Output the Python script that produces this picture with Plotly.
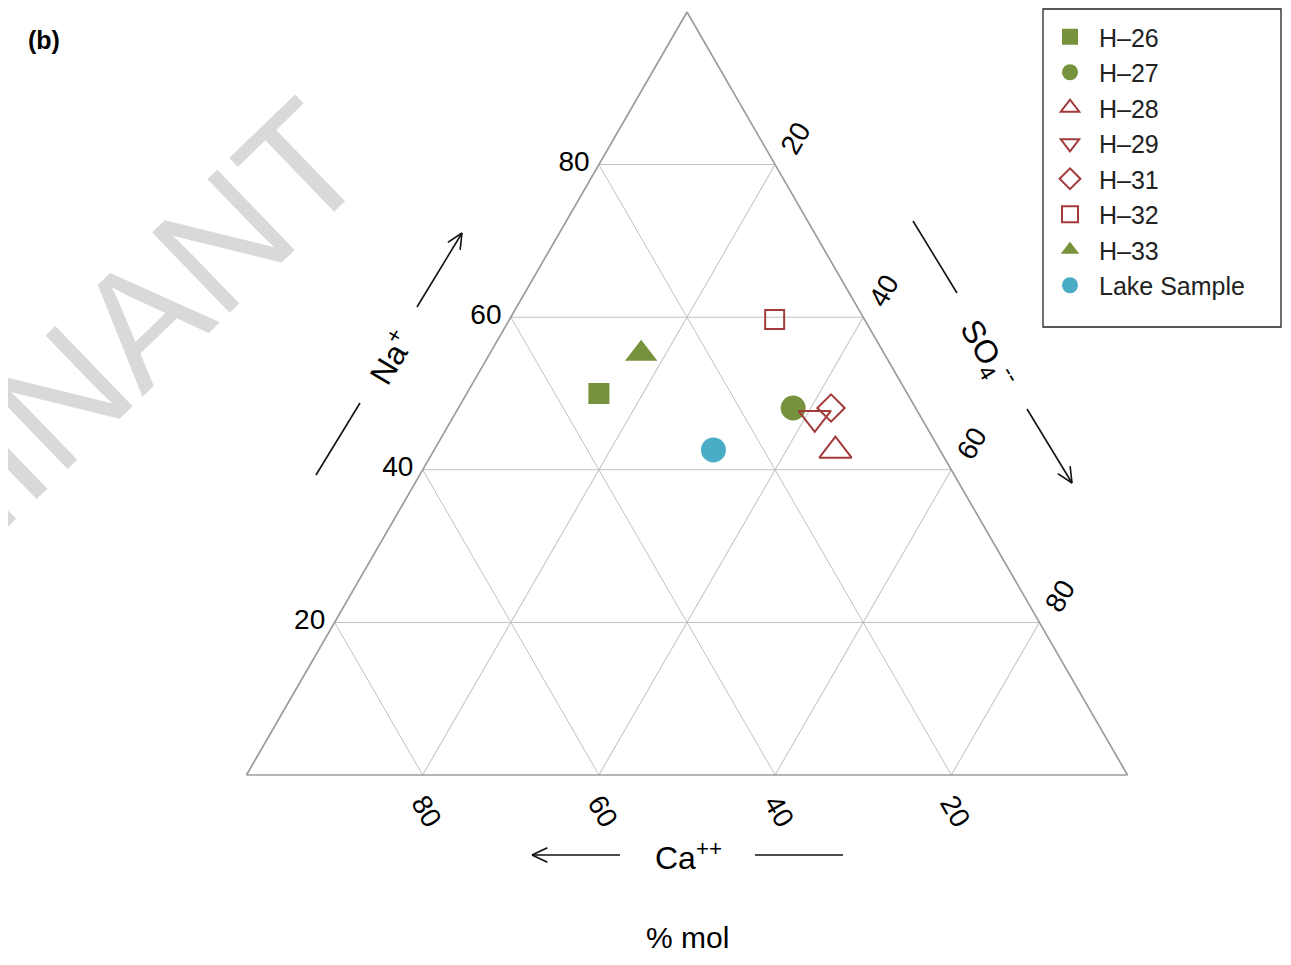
import math
import plotly.graph_objects as go

# the page body adds an 8 px margin on every side, so the figure is sized
# to fit the window exactly and drawn 8 px in
OFF = 8
FW, FH = 1291 - 2 * OFF, 965 - 2 * OFF

# ---- data (percent mol) ----
names = ["H–26", "H–27", "H–28", "H–29", "H–31", "H–32", "H–33", "Lake Sample"]
na = [50.0, 48.1, 42.5, 46.8, 48.1, 59.7, 55.2, 42.6]
ca = [35.0, 13.9, 11.9, 12.1, 9.6, 10.2, 27.6, 25.7]
so4 = [15.0, 38.0, 45.6, 41.1, 42.3, 30.1, 17.2, 31.7]
tick_vals = [20, 40, 60, 80]
tick_text = ["20", "40", "60", "80"]

symbols = ["square", "circle", "triangle-up-open", "triangle-down-open",
           "diamond-open", "square-open", "triangle-up", "circle"]
GREEN, RED, BLUE = "#76923C", "#A33B3B", "#4BACC6"
colors = [GREEN, GREEN, RED, RED, RED, RED, GREEN, BLUE]
sizes = [21, 25, 28, 28, 21, 19, 28, 25]

FONT = "Liberation Sans"


def P(x, y):
    """page-pixel -> paper coordinates (figure margins are zero)"""
    return (x - OFF) / FW, 1 - (y - OFF) / FH


fig = go.Figure()
for i, nm in enumerate(names):
    is_open = symbols[i].endswith("open")
    fig.add_trace(go.Scatterternary(
        a=[na[i]], b=[ca[i]], c=[so4[i]],
        mode="markers", name=nm, legendgroup="g%d" % i,
        marker=dict(symbol=symbols[i], color=colors[i], size=sizes[i],
                    line=dict(width=2 if is_open else 0, color=colors[i])),
    ))


def axis(angle, ticklen):
    return dict(
        title=dict(text=""), min=0,
        tickmode="array", tickvals=tick_vals, ticktext=tick_text,
        ticks="outside" if ticklen else "", ticklen=max(ticklen, 1),
        tickcolor="rgba(0,0,0,0)",
        showline=True, linecolor="#9C9C9C", linewidth=1.7,
        showgrid=True, gridcolor="#C2C2C2", gridwidth=1.3,
        tickfont=dict(size=28, color="black", family=FONT),
        tickangle=angle,
    )


shapes = []


def seg(x0, y0, x1, y1, width=1.6):
    a, b = P(x0, y0)
    c, d = P(x1, y1)
    shapes.append(dict(type="line", xref="paper", yref="paper", x0=a, y0=b, x1=c, y1=d,
                       line=dict(color="#111111", width=width)))


def arrow(x0, y0, x1, y1, L=17, ang=25):
    seg(x0, y0, x1, y1)
    dx, dy = x1 - x0, y1 - y0
    n = math.hypot(dx, dy)
    ux, uy = dx / n, dy / n
    for s in (1, -1):
        t = math.radians(ang * s)
        rx = ux * math.cos(t) - uy * math.sin(t)
        ry = ux * math.sin(t) + uy * math.cos(t)
        seg(x1, y1, x1 - L * rx, y1 - L * ry)


# axis-title guide lines and arrows
seg(316, 475, 360, 403)
arrow(417, 307, 462, 233)
seg(913, 221, 957, 293)
arrow(1027, 409, 1072, 483)
arrow(620, 855, 532, 855)
seg(755, 855, 843, 855)

# legend frame
bx0, by0 = P(1043, 9)
bx1, by1 = P(1281, 327)
shapes.append(dict(type="rect", xref="paper", yref="paper", x0=bx0, y0=by1, x1=bx1, y1=by0,
                   line=dict(color="#222222", width=1.3), fillcolor="rgba(0,0,0,0)"))

annotations = []


def text(x, y, s, size, angle=0, color="black", family=FONT):
    px, py = P(x, y)
    annotations.append(dict(x=px, y=py, xref="paper", yref="paper", text=s, showarrow=False,
                            xanchor="center", yanchor="middle", textangle=angle,
                            font=dict(size=size, color=color, family=family)))


text(112, 347, "MINANT", 162, angle=-44, color="#D9D9D9")
text(44, 40, "<b>(b)</b>", 25)
text(687, 937, "% mol", 30)
text(688, 856, "Ca<sup>++</sup>", 32)
text(390, 357, "Na<sup>+</sup>", 32, angle=-59)
text(988, 354, "SO<sub>4</sub><sup>--</sup>", 32, angle=59)

# triangle: bottom edge at y=775, apex at y=12 (page pixels)
dx0, dy_top = P(246.5, 12)
dx1, dy_bot = P(1127.5, 775)

lx, ly = P(1099 - 58, 14)

fig.update_layout(
    width=FW, height=FH,
    margin=dict(l=0, r=0, t=0, b=0),
    paper_bgcolor="white",
    ternary=dict(
        sum=100,
        domain=dict(x=[dx0, dx1], y=[dy_bot, dy_top]),
        bgcolor="white",
        aaxis=axis(0, 5), baxis=axis(60, 0), caxis=axis(-60, 9),
    ),
    showlegend=True,
    legend=dict(x=lx, y=ly, xanchor="left", yanchor="top",
                font=dict(size=25, family=FONT, color="#222222"),
                bgcolor="rgba(0,0,0,0)", borderwidth=0, tracegroupgap=0,
                itemsizing="trace", itemwidth=48),
    shapes=shapes,
    annotations=annotations,
    font=dict(family=FONT),
)

fig.write_html("out.html")
